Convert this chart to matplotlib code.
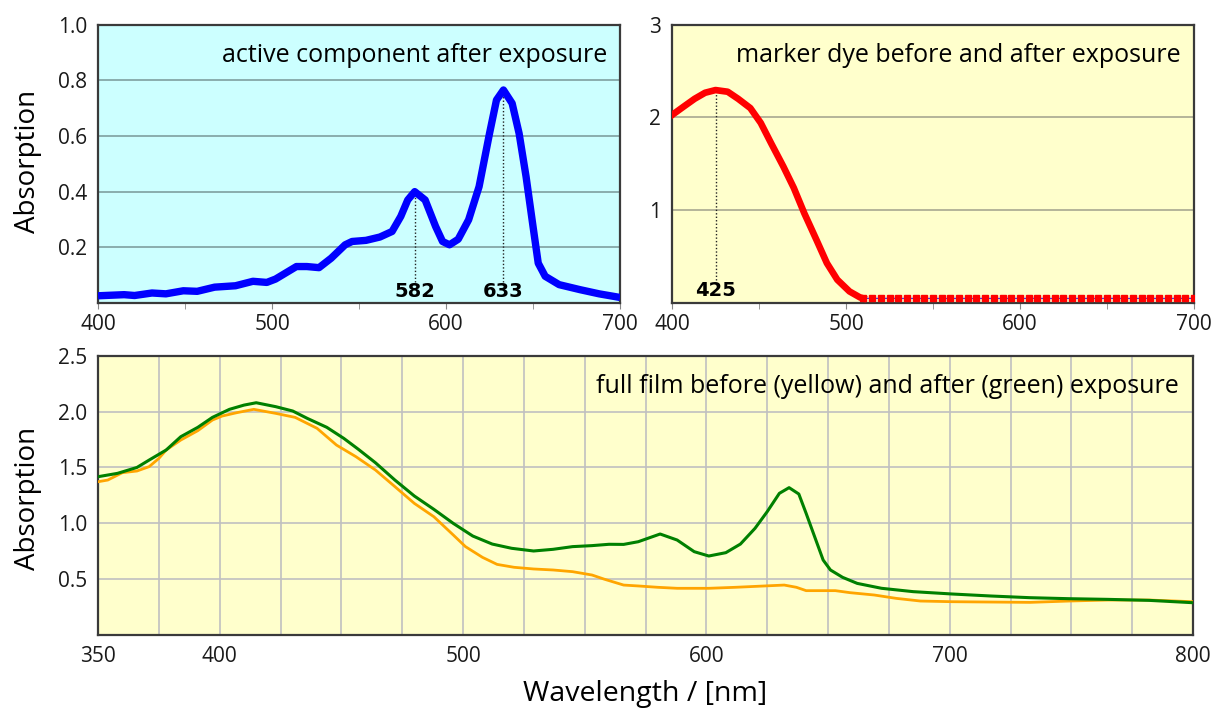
import matplotlib
matplotlib.use("Agg")
import matplotlib.pyplot as plt
from matplotlib.ticker import MultipleLocator, FixedLocator, NullFormatter

# ---- active component after exposure (blue) ----
active_nm = [400, 415, 421, 431, 439, 449, 457, 467, 479, 489, 497, 502, 514, 520,
             527, 534, 542, 546, 554, 562, 569, 574, 578, 582, 588, 594, 598, 602,
             607, 613, 619, 625, 629, 633, 638, 642, 646, 650, 653, 657, 665, 677,
             688, 700]
active_abs = [0.026, 0.030, 0.027, 0.036, 0.033, 0.044, 0.042, 0.057, 0.062, 0.078,
              0.074, 0.086, 0.131, 0.131, 0.127, 0.161, 0.209, 0.221, 0.225, 0.237,
              0.257, 0.311, 0.370, 0.400, 0.370, 0.275, 0.221, 0.209, 0.229, 0.299,
              0.418, 0.609, 0.729, 0.765, 0.717, 0.609, 0.454, 0.275, 0.143, 0.096,
              0.066, 0.048, 0.033, 0.020]
active_peaks = [582, 633]

# ---- marker dye (red) ----
dye_nm = [400, 407, 413, 419, 425, 432, 438, 445, 451, 457, 464, 470, 476, 483,
          489, 495, 502, 508, 510]
dye_abs = [2.025, 2.12, 2.20, 2.265, 2.294, 2.276, 2.20, 2.10, 1.94, 1.72, 1.47,
           1.24, 0.968, 0.681, 0.430, 0.251, 0.125, 0.061, 0.05]
dye_tail_nm = list(range(510, 701, 5))
dye_tail_abs = [0.05, 0.05, 0.05, 0.05, 0.05, 0.049, 0.05, 0.049, 0.05, 0.049,
                0.049, 0.05, 0.049, 0.049, 0.05, 0.049, 0.049, 0.05, 0.049, 0.05,
                0.05, 0.049, 0.049, 0.05, 0.049, 0.05, 0.049, 0.049, 0.05, 0.05,
                0.049, 0.049, 0.05, 0.05, 0.049, 0.049, 0.05, 0.05, 0.05]
dye_peak = 425

# ---- full film (green: after, orange: before) ----
after_nm = [350, 358, 366, 371, 378, 384, 391, 397, 404, 410, 415, 423, 430, 436,
            444, 451, 457, 464, 472, 480, 488, 496, 504, 512, 520, 529, 537, 545,
            553, 560, 566, 572, 581, 588, 595, 601, 608, 614, 620, 625, 630, 634,
            638, 641, 645, 648, 651, 656, 662, 672, 685, 701, 717, 733, 749, 765,
            782, 800]
after_abs = [1.417, 1.447, 1.50, 1.566, 1.656, 1.775, 1.859, 1.948, 2.02, 2.058,
             2.079, 2.044, 2.005, 1.939, 1.859, 1.760, 1.662, 1.542, 1.387, 1.244,
             1.125, 0.999, 0.886, 0.814, 0.776, 0.752, 0.767, 0.791, 0.80, 0.812,
             0.811, 0.835, 0.904, 0.850, 0.746, 0.707, 0.737, 0.814, 0.955, 1.104,
             1.268, 1.319, 1.262, 1.089, 0.850, 0.671, 0.582, 0.516, 0.462, 0.418,
             0.388, 0.367, 0.349, 0.334, 0.325, 0.319, 0.310, 0.289]

before_nm = [350, 354, 360, 366, 371, 375, 378, 384, 391, 397, 401, 407, 414, 423,
             431, 440, 448, 456, 464, 472, 480, 488, 496, 501, 508, 514, 521, 529,
             537, 545, 553, 558, 566, 572, 580, 588, 601, 612, 624, 632, 637, 641,
             653, 659, 669, 678, 688, 701, 717, 733, 749, 765, 782, 800]
before_abs = [1.372, 1.387, 1.453, 1.468, 1.507, 1.581, 1.656, 1.745, 1.829, 1.924,
              1.960, 1.990, 2.020, 1.984, 1.948, 1.850, 1.700, 1.596, 1.477, 1.328,
              1.178, 1.059, 0.895, 0.791, 0.695, 0.632, 0.606, 0.591, 0.582, 0.567,
              0.537, 0.50, 0.447, 0.439, 0.427, 0.418, 0.418, 0.427, 0.439, 0.447,
              0.427, 0.397, 0.397, 0.379, 0.358, 0.328, 0.304, 0.298, 0.295, 0.292,
              0.304, 0.313, 0.313, 0.298]

FONT = "Open Sans"
plt.rcParams["font.family"] = [FONT, "DejaVu Sans"]

fig = plt.figure(figsize=(12.15, 7.13), dpi=100)
ax1 = fig.add_axes([0.0807, 0.575, 0.4296, 0.3906])
ax2 = fig.add_axes([0.5531, 0.575, 0.4296, 0.3906])
ax3 = fig.add_axes([0.0807, 0.1094, 0.9012, 0.3917])

spine_color = "#3a3a3a"
tick_fs = 15
label_fs = 20
title_fs = 18
peak_fs = 14


def style(ax, face, grid_color):
    ax.set_facecolor(face)
    for s in ax.spines.values():
        s.set_color(spine_color)
        s.set_linewidth(1.6)
    ax.tick_params(axis="both", labelsize=tick_fs, colors="#1a1a1a")
    ax.tick_params(axis="y", length=0, pad=8)
    ax.tick_params(axis="x", which="both", length=4, color="#888888", pad=4)
    ax.grid(axis="y", color=grid_color, linewidth=1.2)
    ax.set_axisbelow(True)


# top-left panel
style(ax1, "#CCFFFF", "#7f9f9f")
ax1.plot(active_nm, active_abs, color="#0000FF", lw=5.3, solid_capstyle="butt",
         solid_joinstyle="round", zorder=3)
ax1.set_xlim(400, 700)
ax1.set_ylim(0, 1.0)
ax1.yaxis.set_major_locator(FixedLocator([0.2, 0.4, 0.6, 0.8, 1.0]))
ax1.set_yticklabels(["0.2", "0.4", "0.6", "0.8", "1.0"])
ax1.xaxis.set_major_locator(MultipleLocator(100))
ax1.xaxis.set_minor_locator(MultipleLocator(50))
ax1.set_ylabel("Absorption", fontsize=label_fs)
ax1.yaxis.set_label_coords(-0.107, 0.51)
ax1.text(0.975, 0.89, "active component after exposure", transform=ax1.transAxes,
         ha="right", va="center", fontsize=title_fs)
for p in active_peaks:
    peak_val = active_abs[active_nm.index(p)]
    ax1.plot([p, p], [0.075, peak_val], color="#222222", lw=1, ls=(0, (1, 1.5)), zorder=2)
    ax1.text(p, 0.04, str(p), ha="center", va="center", fontsize=peak_fs,
             fontweight="bold", family="DejaVu Sans", zorder=4)

# top-right panel
style(ax2, "#FFFFCC", "#a8a890")
ax2.plot(dye_tail_nm, dye_tail_abs, color="#3030ff", lw=0.9, zorder=3)
ax2.plot(dye_tail_nm, dye_tail_abs, color="#FF0000", lw=0, marker="s", ms=4.5, zorder=4)
ax2.plot(dye_nm, dye_abs, color="#FF0000", lw=4.8, solid_joinstyle="round", zorder=4)
ax2.set_xlim(400, 700)
ax2.set_ylim(0, 3)
ax2.yaxis.set_major_locator(FixedLocator([1, 2, 3]))
ax2.set_yticklabels(["1", "2", "3"])
ax2.xaxis.set_major_locator(MultipleLocator(100))
ax2.xaxis.set_minor_locator(MultipleLocator(50))
ax2.text(0.975, 0.89, "marker dye before and after exposure", transform=ax2.transAxes,
         ha="right", va="center", fontsize=title_fs)
peak_val = dye_abs[dye_nm.index(dye_peak)]
ax2.plot([dye_peak, dye_peak], [0.25, peak_val], color="#222222", lw=1,
         ls=(0, (1, 1.5)), zorder=2)
ax2.text(dye_peak, 0.13, str(dye_peak), ha="center", va="center", fontsize=peak_fs,
         fontweight="bold", family="DejaVu Sans", zorder=5)

# bottom panel
style(ax3, "#FFFFCC", "#c0c0c0")
ax3.set_xlim(350, 800)
ax3.set_ylim(0, 2.5)
ax3.xaxis.set_major_locator(FixedLocator([350, 400, 500, 600, 700, 800]))
ax3.xaxis.set_minor_locator(MultipleLocator(25))
ax3.xaxis.set_minor_formatter(NullFormatter())
ax3.tick_params(axis="x", which="both", length=0, pad=8)
ax3.grid(axis="x", which="both", color="#c0c0c0", linewidth=1.2)
ax3.yaxis.set_major_locator(FixedLocator([0.5, 1.0, 1.5, 2.0, 2.5]))
ax3.set_yticklabels(["0.5", "1.0", "1.5", "2.0", "2.5"])
ax3.plot(before_nm, before_abs, color="#FFA500", lw=2.0, zorder=3)
ax3.plot(after_nm, after_abs, color="#008000", lw=2.2, zorder=4)
ax3.set_ylabel("Absorption", fontsize=label_fs)
ax3.yaxis.set_label_coords(-0.051, 0.49)
ax3.set_xlabel("Wavelength / [nm]", fontsize=20.5)
ax3.xaxis.set_label_coords(0.5, -0.16)
ax3.text(0.987, 0.89, "full film before (yellow) and after (green) exposure",
         transform=ax3.transAxes, ha="right", va="center", fontsize=title_fs)

fig.savefig("out.png", dpi=100)
